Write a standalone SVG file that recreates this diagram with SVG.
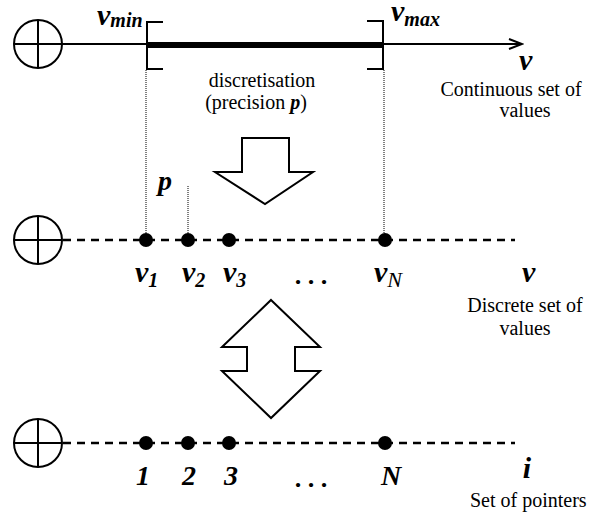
<svg xmlns="http://www.w3.org/2000/svg" width="590" height="518" viewBox="0 0 590 518">
<defs>
<style>
.ln{stroke:#000;fill:none;stroke-width:2}
.dash{stroke:#000;fill:none;stroke-width:2.5;stroke-dasharray:8 6}
.dot{stroke:#000;fill:none;stroke-width:1;stroke-dasharray:1 1}
.blk{fill:#000}
text{font-family:'Liberation Serif','DejaVu Serif','Times New Roman',serif}
.math{font-weight:bold;font-style:italic;fill:#000}
.txt{font-size:20px;fill:#000;text-anchor:middle}
.arr{fill:#fff;stroke:#000;stroke-width:2}
</style>
<marker id="open" markerWidth="16" markerHeight="16" refX="14" refY="8" orient="auto" markerUnits="userSpaceOnUse">
<path d="M1,3 L14,8 L1,13" fill="none" stroke="#000" stroke-width="2"/>
</marker>
</defs>

<g id="origin-top">
<circle cx="38" cy="44" r="24" class="ln"/>
<line x1="14" y1="44" x2="62" y2="44" class="ln"/>
<line x1="38" y1="20" x2="38" y2="68" class="ln"/>
</g>
<g id="origin-mid">
<circle cx="38" cy="240" r="24" class="ln"/>
<line x1="14" y1="240" x2="62" y2="240" class="ln"/>
<line x1="38" y1="216" x2="38" y2="264" class="ln"/>
</g>
<g id="origin-bot">
<circle cx="38" cy="443" r="24" class="ln"/>
<line x1="14" y1="443" x2="62" y2="443" class="ln"/>
<line x1="38" y1="419" x2="38" y2="467" class="ln"/>
</g>

<g id="connectors">
<line x1="62" y1="44" x2="522" y2="44" class="ln" marker-end="url(#open)"/>
<line x1="146" y1="45" x2="383" y2="45" stroke="#000" stroke-width="6"/>
<path d="M163,22 H147 V69 H163" class="ln" stroke-width="3"/>
<path d="M367,21 H383 V69 H367" class="ln" stroke-width="3"/>
<line x1="146" y1="70" x2="146" y2="234" class="dot"/>
<line x1="384" y1="70" x2="384" y2="234" class="dot"/>
<line x1="188" y1="186" x2="188" y2="234" class="dot"/>
<line x1="63" y1="240" x2="515" y2="240" class="dash"/>
<line x1="63" y1="443" x2="515" y2="443" class="dash"/>
</g>

<g id="discretise-arrow">
<polygon points="242,138 289,138 289,172 313,172 265,204 215,172 242,172" class="arr"/>
</g>
<g id="double-arrow">
<polygon points="271,300 320,347 295,347 295,371 320,371 271,418 222,371 247,371 247,347 222,347" class="arr"/>
</g>

<g id="points-mid">
<circle cx="146" cy="240" r="7" class="blk"/>
<circle cx="188" cy="240" r="7" class="blk"/>
<circle cx="229" cy="240" r="7" class="blk"/>
<circle cx="385" cy="240" r="7" class="blk"/>
</g>
<g id="points-bot">
<circle cx="146" cy="443" r="7" class="blk"/>
<circle cx="188" cy="443" r="7" class="blk"/>
<circle cx="229" cy="443" r="7" class="blk"/>
<circle cx="385" cy="443" r="7" class="blk"/>
</g>

<g id="labels-top">
<text x="97" y="25" class="math" font-size="30">v<tspan font-size="20" dy="2">min</tspan></text>
<text x="391" y="21" class="math" font-size="30">v<tspan font-size="20" dy="5">max</tspan></text>
<text x="519" y="70" class="math" font-size="30">v</text>
<text x="262" y="87" class="txt">discretisation</text>
<text x="256" y="109" class="txt">(precision <tspan class="math">p</tspan>)</text>
<text x="511" y="96" class="txt">Continuous set of</text>
<text x="525" y="117" class="txt">values</text>
</g>

<g id="labels-mid">
<text x="158" y="190" class="math" font-size="28">p</text>
<text x="135" y="282" class="math" font-size="30">v<tspan font-size="20" dy="5">1</tspan></text>
<text x="182" y="282" class="math" font-size="30">v<tspan font-size="20" dy="5">2</tspan></text>
<text x="223" y="282" class="math" font-size="30">v<tspan font-size="20" dy="5">3</tspan></text>
<text x="312" y="284" class="math" font-size="26" text-anchor="middle">. . .</text>
<text x="374" y="282" class="math" font-size="30">v<tspan font-size="22" dy="5" font-style="italic" font-weight="normal">N</tspan></text>
<text x="522" y="282" class="math" font-size="30">v</text>
<text x="525" y="312" class="txt">Discrete set of</text>
<text x="525" y="335" class="txt">values</text>
</g>

<g id="labels-bot">
<text x="143" y="485" class="math" font-size="28" text-anchor="middle">1</text>
<text x="189" y="485" class="math" font-size="28" text-anchor="middle">2</text>
<text x="231" y="485" class="math" font-size="28" text-anchor="middle">3</text>
<text x="312" y="487" class="math" font-size="26" text-anchor="middle">. . .</text>
<text x="391" y="485" class="math" font-size="28" text-anchor="middle">N</text>
<text x="527" y="478" class="math" font-size="30" text-anchor="middle">i</text>
<text x="470" y="507" class="txt" style="text-anchor:start">Set of pointers</text>
</g>
</svg>
